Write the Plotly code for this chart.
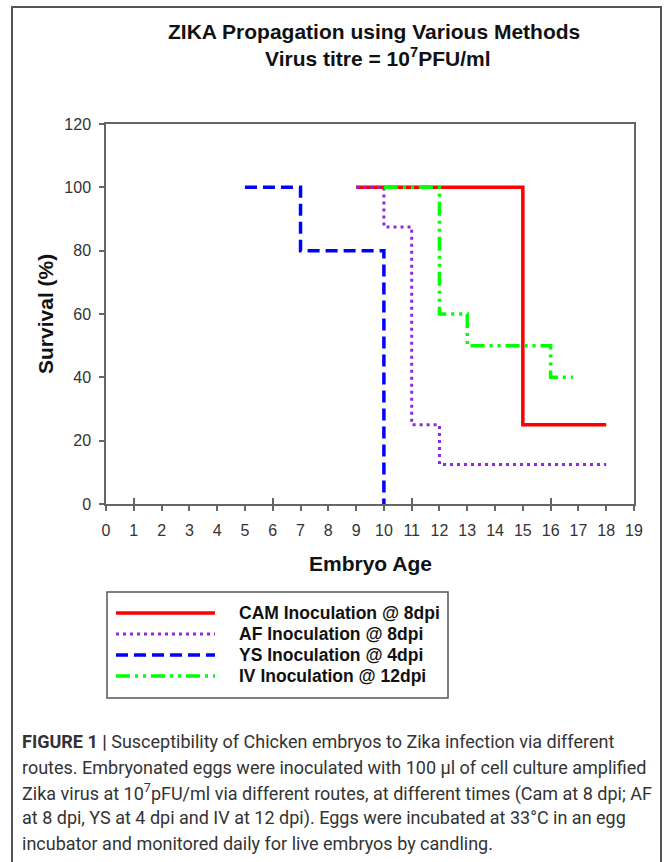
import plotly.graph_objects as go

# ---------------- data ----------------
day_cam = [9, 15, 18]
surv_cam = [100, 25, 25]
day_af = [9, 10, 11, 12, 18]
surv_af = [100, 87.5, 25, 12.5, 12.5]
day_ys = [5, 7, 10]
surv_ys = [100, 80, 0]
day_iv = [10, 12, 13, 16, 16.8]
surv_iv = [100, 60, 50, 40, 40]

series_names = ["CAM Inoculation @ 8dpi", "AF Inoculation @ 8dpi",
                "YS Inoculation @ 4dpi", "IV Inoculation @ 12dpi"]
x_ticks = list(range(0, 20))
y_ticks = [0, 20, 40, 60, 80, 100, 120]
major_x_ticks = [1, 6, 11, 16]

# ---------------- layout geometry (pixels) ----------------
W, H = 667, 862
L, R, T, B = 106, 33, 124, 358
PW = W - L - R
PH = H - T - B


def xp(px):
    return (px - L) / PW


def yp(py):
    return (H - B - py) / PH


colors = ["#FF0000", "#8A2BE2", "#0000FF", "#00FF00"]
dashes = ["solid", "3px,4px", "12px,6px", "14px,5px,3px,5px,3px,5px"]
widths = [3.5, 3, 3.5, 3.5]
xs = [day_cam, day_af, day_ys, day_iv]
ys = [surv_cam, surv_af, surv_ys, surv_iv]

fig = go.Figure()
for i in range(4):
    fig.add_trace(go.Scatter(
        x=xs[i], y=ys[i], mode="lines", name=series_names[i],
        line=dict(color=colors[i], width=widths[i], dash=dashes[i], shape="hv"),
        showlegend=False,
    ))

# invisible trace for the secondary x axis (crossing major ticks)
fig.add_trace(go.Scatter(x=[0], y=[0], xaxis="x2", mode="lines",
                         line=dict(width=0), showlegend=False, hoverinfo="skip"))

axis_col = "#666666"
tick_font = dict(family="Liberation Sans, Arial, sans-serif", size=16, color="#333333")

fig.update_layout(
    width=W, height=H,
    margin=dict(l=L, r=R, t=T, b=B, autoexpand=False),
    paper_bgcolor="white", plot_bgcolor="white",
    xaxis=dict(range=[0, 19], tickvals=x_ticks, ticks="outside", ticklen=5,
               tickcolor=axis_col, tickwidth=1.5, showgrid=False, zeroline=False,
               showline=True, linecolor=axis_col, linewidth=1.5, mirror=True,
               tickfont=tick_font, ticklabelstandoff=6),
    xaxis2=dict(range=[0, 19], overlaying="x", anchor="y", side="bottom",
                tickvals=major_x_ticks, ticks="inside", ticklen=6,
                tickcolor=axis_col, tickwidth=1.5, showticklabels=False,
                showgrid=False, zeroline=False, showline=False),
    yaxis=dict(range=[0, 120], tickvals=y_ticks, ticks="outside", ticklen=5,
               tickcolor=axis_col, tickwidth=1.5, showgrid=False, zeroline=False,
               showline=True, linecolor=axis_col, linewidth=1.5, mirror=True,
               tickfont=tick_font, ticklabelstandoff=5),
)

bold_font = "Liberation Sans, Arial, sans-serif"
ann = []
# Title
ann.append(dict(text="<b>ZIKA Propagation using Various Methods</b>",
                x=xp(374), y=yp(31), xref="paper", yref="paper",
                xanchor="center", yanchor="middle", showarrow=False,
                font=dict(family=bold_font, size=21, color="#111111")))
ann.append(dict(text="<b>Virus titre = 10<sup>7</sup>PFU/ml</b>",
                x=xp(377), y=yp(57), xref="paper", yref="paper",
                xanchor="center", yanchor="middle", showarrow=False,
                font=dict(family=bold_font, size=21, color="#111111")))
# Axis titles
ann.append(dict(text="<b>Embryo Age</b>", x=xp(370), y=yp(563),
                xref="paper", yref="paper", xanchor="center", yanchor="middle",
                showarrow=False, font=dict(family=bold_font, size=21, color="#111111")))
ann.append(dict(text="<b>Survival (%)</b>", x=xp(45), y=yp(314), textangle=-90,
                xref="paper", yref="paper", xanchor="center", yanchor="middle",
                showarrow=False, font=dict(family=bold_font, size=21, color="#111111")))

shapes = []
# outer frame
shapes.append(dict(type="rect", xref="paper", yref="paper",
                   x0=xp(12), x1=xp(661), y0=yp(7), y1=yp(900),
                   line=dict(color="#555555", width=2), fillcolor="rgba(0,0,0,0)",
                   layer="below"))
# custom legend box
shapes.append(dict(type="rect", xref="paper", yref="paper",
                   x0=xp(107), x1=xp(448), y0=yp(592), y1=yp(698),
                   line=dict(color="#555555", width=1.5), fillcolor="white"))
legend_rows = [613, 634, 655, 676]
for i, ry in enumerate(legend_rows):
    shapes.append(dict(type="line", xref="paper", yref="paper",
                       x0=xp(116), x1=xp(215), y0=yp(ry), y1=yp(ry),
                       line=dict(color=colors[i], width=widths[i], dash=dashes[i])))
    ann.append(dict(text="<b>" + series_names[i] + "</b>", x=xp(237), y=yp(ry),
                    xref="paper", yref="paper", xanchor="left", yanchor="middle",
                    showarrow=False,
                    font=dict(family=bold_font, size=17.5, color="#111111")))

# caption
caption_lines = [
    "<b>FIGURE 1 |</b> Susceptibility of Chicken embryos to Zika infection via different",
    "routes. Embryonated eggs were inoculated with 100 μl of cell culture amplified",
    "Zika virus at 10<sup>7</sup>pFU/ml via different routes, at different times (Cam at 8 dpi; AF",
    "at 8 dpi, YS at 4 dpi and IV at 12 dpi). Eggs were incubated at 33°C in an egg",
    "incubator and monitored daily for live embryos by candling.",
]
cap_y = [741.5, 767, 792.5, 818, 843.5]
for line, cy in zip(caption_lines, cap_y):
    ann.append(dict(text=line, x=xp(20), y=yp(cy), xref="paper", yref="paper",
                    xanchor="left", yanchor="middle", showarrow=False,
                    font=dict(family="Roboto, sans-serif", size=18, color="#333333")))

fig.update_layout(annotations=ann, shapes=shapes)
fig.write_html("out.html", config={"displayModeBar": False},
               post_script="document.body.style.margin='0px';document.body.style.overflow='hidden';")
